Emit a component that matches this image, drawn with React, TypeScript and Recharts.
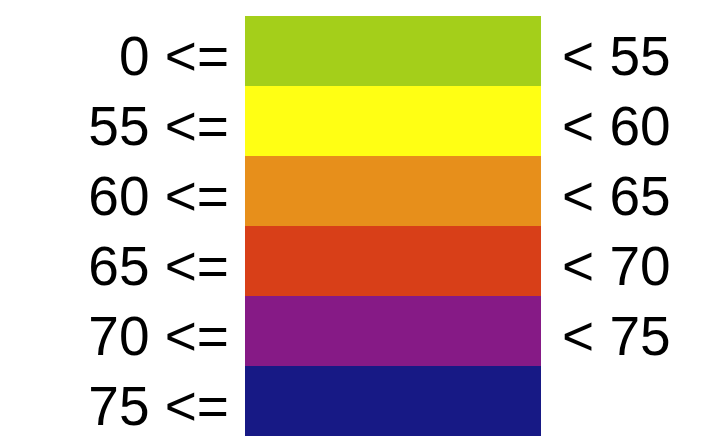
import { BarChart, Bar, XAxis, YAxis, Cell } from 'recharts'

// class limits and colours of the legend bands
const lowerBounds = [0, 55, 60, 65, 70, 75]
const upperBounds = [55, 60, 65, 70, 75, null]
const bandColors = ['#A4CF1A', '#FFFF14', '#E78F1B', '#D83F18', '#861A86', '#171985']
const bandValues = [1, 1, 1, 1, 1, 1]

const data = lowerBounds.map((lo, i) => ({
  id: `b${i}`,
  left: `${lo} <=`,
  right: upperBounds[i] == null ? '' : `< ${upperBounds[i]}`,
  value: bandValues[i],
}))

const FONT = "'Liberation Sans', Arial, Helvetica, sans-serif"

const makeTick = (side: 'left' | 'right') => (props: any) => {
  const { x, y, payload } = props
  const row = data.find((d) => d.id === payload.value)
  const label = row ? row[side] : ''
  return (
    <text
      x={x}
      y={y + 24}
      textAnchor={side === 'left' ? 'end' : 'start'}
      fontSize={55}
      fontFamily={FONT}
      fill='#000'
    >
      {label}
    </text>
  )
}

export default function App() {
  return (
    <div style={{ position: 'absolute', left: 0, top: 0, background: '#fff' }}>
      <BarChart
        width={704}
        height={437}
        data={data}
        layout='vertical'
        barCategoryGap={0}
        margin={{ top: 16, right: 0, bottom: 1, left: 0 }}
      >
        <XAxis type='number' domain={[0, 1]} hide />
        <YAxis
          yAxisId='left'
          type='category'
          dataKey='id'
          width={245}
          axisLine={false}
          tickLine={false}
          tickSize={0}
          tickMargin={16}
          tick={makeTick('left')}
          interval={0}
        />
        <YAxis
          yAxisId='right'
          orientation='right'
          type='category'
          dataKey='id'
          width={163}
          axisLine={false}
          tickLine={false}
          tickSize={0}
          tickMargin={21}
          tick={makeTick('right')}
          interval={0}
        />
        <Bar dataKey='value' yAxisId='left' isAnimationActive={false}>
          {data.map((d, i) => (
            <Cell key={d.id} fill={bandColors[i]} />
          ))}
        </Bar>
      </BarChart>
    </div>
  )
}
